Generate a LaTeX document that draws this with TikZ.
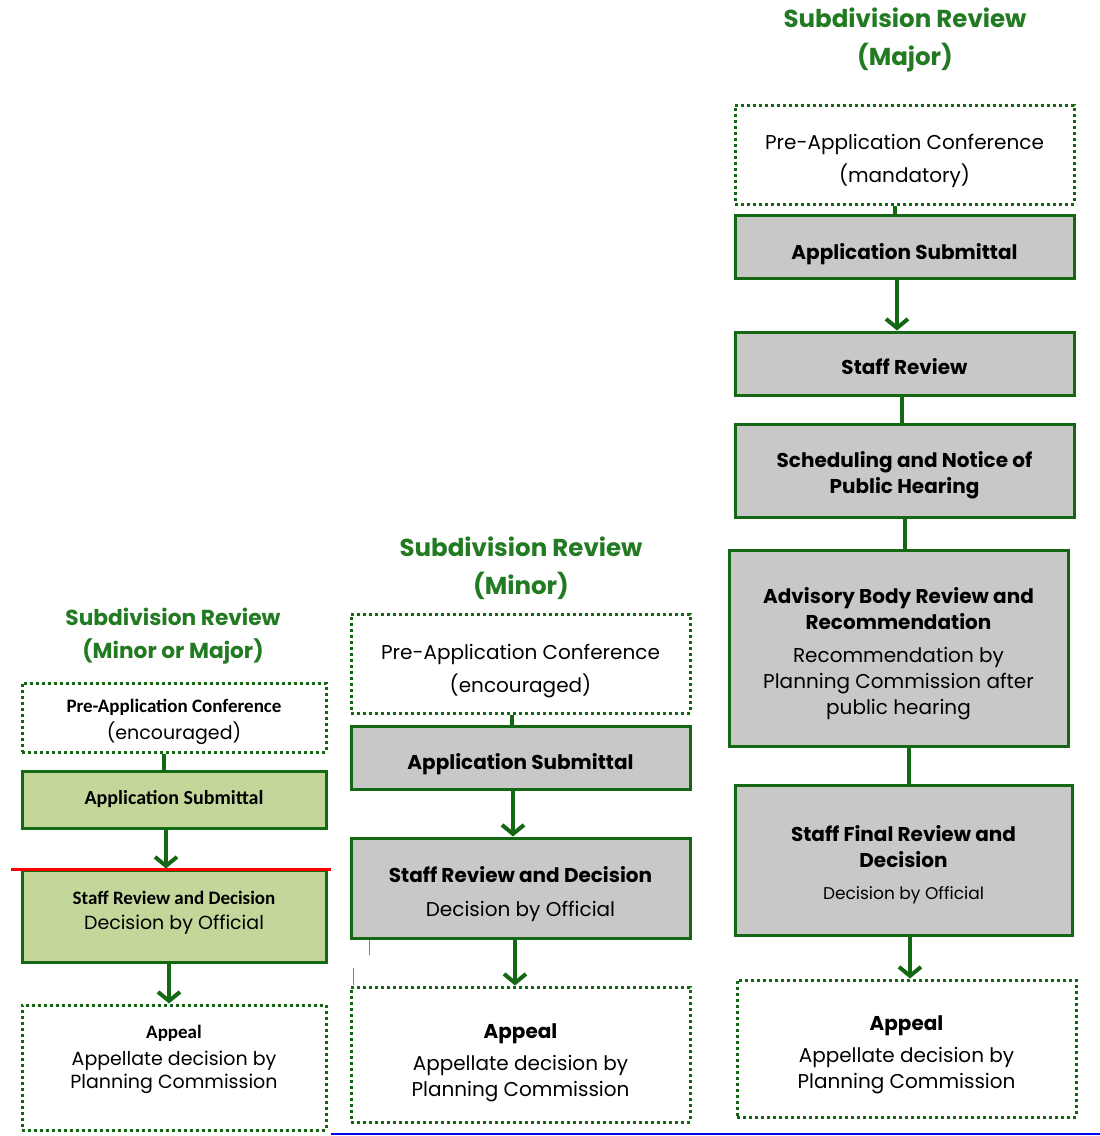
\documentclass[tikz,border=0pt]{standalone}
\usepackage{fontspec}
\usepackage{tikz}
\usetikzlibrary{arrows.meta}

\newfontfamily\gothic{Poppins}
\newfontfamily\calib{Carlito}

\definecolor{boxgreen}{RGB}{20,104,20}
\definecolor{titlegreen}{RGB}{34,122,34}
\definecolor{boxgrey}{RGB}{200,200,200}
\definecolor{boxlime}{RGB}{196,215,155}

% pushes the text of a box down
\newcommand\dropby[1]{\rule{0pt}{#1}}

\tikzset{
  flowbox/.style={rectangle, draw=boxgreen, line width=3pt, fill=boxgrey,
    align=center, inner sep=0pt, font=\gothic\fontsize{20}{26}\selectfont},
  greenbox/.style={flowbox, fill=boxlime},
  dotbox/.style={flowbox, fill=white, dash pattern=on 3pt off 3pt},
  leftfont/.style={font=\gothic\fontsize{19}{24}\selectfont},
  drop/.style={execute at begin node={\dropby{#1}}},
  lift/.style={execute at end node={\rule[-#1]{0pt}{0pt}}},
  headline/.style={text=titlegreen, align=center,
    font=\gothic\bfseries\fontsize{24.5}{38}\selectfont},
  link/.style={draw=boxgreen, line width=4pt},
  flowarrow/.style={link, -{Straight Barb[length=9pt,width=22pt]}}
}

\begin{document}
\begin{tikzpicture}[x=1pt,y=-1pt]
  \useasboundingbox (0,0) rectangle (1100,1136);

  % left column: minor or major
  \node[headline, font=\gothic\bfseries\fontsize{21.7}{33}\selectfont] (ltitle) at (173,636) {Subdivision Review\\(Minor or Major)};
  \node[dotbox, leftfont, minimum width=304pt, minimum height=69pt] (lpre) at (174,717.5)
    {\dropby{23pt}{\calib\bfseries Pre-Application Conference}\\[3pt](encouraged)};
  \node[greenbox, minimum width=304pt, minimum height=57pt] (lapp) at (174,799.5)
    {\calib\bfseries Application Submittal};
  \node[greenbox, leftfont, lift=10.5pt, minimum width=304pt, minimum height=92pt] (lstaff) at (174,916)
    {{\calib\bfseries Staff Review and Decision}\\[1pt]Decision by Official};
  \node[dotbox, lift=22pt, minimum width=304pt, minimum height=125pt, font=\gothic\fontsize{19}{23}\selectfont] (lappeal) at (174,1067.5)
    {{\calib\bfseries Appeal}\\[4pt]Appellate decision by\\Planning Commission};

  \draw[link] ([xshift=-10pt]lpre.south) -- ([xshift=-10pt]lapp.north);
  \draw[flowarrow] ([xshift=-8pt]lapp.south) -- ([xshift=-8pt]lstaff.north);
  \draw[flowarrow] ([xshift=-5pt]lstaff.south) -- ([xshift=-5pt]lappeal.north);

  \draw[red, line width=3pt] (11,869) -- (331,869);

  % middle column: minor
  \node[headline] (mtitle) at (521,568) {Subdivision Review\\(Minor)};
  \node[dotbox, minimum width=339pt, minimum height=99pt] (mpre) at (520.5,663.5)
    {\dropby{31pt}Pre-Application Conference\\[7pt](encouraged)};
  \node[flowbox, drop=30pt, minimum width=339pt, minimum height=63pt] (mapp) at (520.5,757.5)
    {\bfseries Application Submittal};
  \node[flowbox, minimum width=339pt, minimum height=100pt] (mstaff) at (520.5,888)
    {\dropby{29pt}{\bfseries Staff Review and Decision}\\[8pt]Decision by Official};
  \node[dotbox, minimum width=339pt, minimum height=135pt] (mappeal) at (520.5,1054.5)
    {\dropby{31pt}{\bfseries Appeal}\\[6pt]Appellate decision by\\Planning Commission};

  \draw[link] ([xshift=-8.5pt]mpre.south) -- ([xshift=-8.5pt]mapp.north);
  \draw[flowarrow] ([xshift=-7.5pt]mapp.south) -- ([xshift=-7.5pt]mstaff.north);
  \draw[flowarrow] ([xshift=-5.5pt]mstaff.south) -- ([xshift=-5.5pt]mappeal.north);

  \draw[gray, line width=1pt] (369,940) -- (369,955);
  \draw[gray, line width=1pt] (353,968) -- (353,985);

  % right column: major
  \node[headline] (rtitle) at (905,40) {Subdivision Review\\(Major)};
  \node[dotbox, minimum width=339pt, minimum height=99pt] (rpre) at (904.5,154.5)
    {\dropby{28pt}Pre-Application Conference\\[7pt](mandatory)};
  \node[flowbox, drop=31pt, minimum width=339pt, minimum height=63pt] (rapp) at (904.5,246.5)
    {\bfseries Application Submittal};
  \node[flowbox, drop=23pt, minimum width=339pt, minimum height=63pt] (rstaff) at (904.5,363.5)
    {\bfseries Staff Review};
  \node[flowbox, minimum width=339pt, minimum height=93pt] (rsched) at (904.5,470.5)
    {\dropby{25pt}\bfseries Scheduling and Notice of\\\bfseries Public Hearing};
  \node[flowbox, minimum width=339pt, minimum height=196pt] (radvis) at (898.5,648)
    {\dropby{27pt}{\bfseries Advisory Body Review and}\\{\bfseries Recommendation}\\[7pt]Recommendation by\\Planning Commission after\\public hearing};
  \node[flowbox, minimum width=337pt, minimum height=150pt] (rfinal) at (903.5,860)
    {\dropby{25pt}{\bfseries Staff Final Review and}\\{\bfseries Decision}\\[6pt]{\fontsize{17}{20}\selectfont Decision by Official}};
  \node[dotbox, minimum width=339pt, minimum height=137pt] (rappeal) at (906.5,1048.5)
    {\dropby{27pt}{\bfseries Appeal}\\[6pt]Appellate decision by\\Planning Commission};

  \draw[link] ([xshift=-9.5pt]rpre.south) -- ([xshift=-9.5pt]rapp.north);
  \draw[flowarrow] ([xshift=-7.5pt]rapp.south) -- ([xshift=-7.5pt]rstaff.north);
  \draw[link] ([xshift=-2.5pt]rstaff.south) -- ([xshift=-2.5pt]rsched.north);
  \draw[link] ([xshift=0.5pt]rsched.south) -- ([xshift=6.5pt]radvis.north);
  \draw[link] ([xshift=10.5pt]radvis.south) -- ([xshift=5.5pt]rfinal.north);
  \draw[flowarrow] ([xshift=6.5pt]rfinal.south) -- ([xshift=3.5pt]rappeal.north);

  \draw[blue, line width=2pt] (331,1134) -- (1100,1134);
\end{tikzpicture}
\end{document}
